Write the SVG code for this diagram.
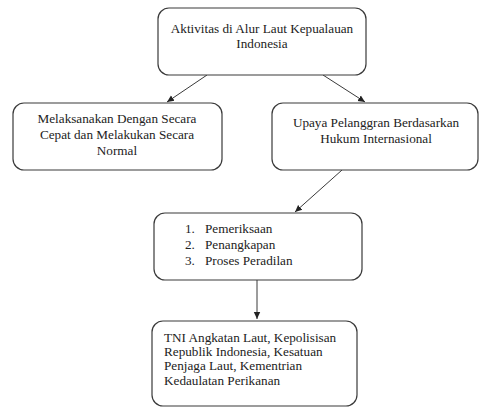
<svg xmlns="http://www.w3.org/2000/svg" width="479" height="408" viewBox="0 0 479 408">
<style>
.box{fill:#fff;stroke:#3a3a3a;stroke-width:1.2}
.t{font-family:"Liberation Serif","Times New Roman",serif;font-size:13.2px;fill:#222}
.c{text-anchor:middle}
.ln{stroke:#3a3a3a;stroke-width:1;fill:none;marker-end:url(#ah)}
</style>
<defs>
<marker id="ah" markerWidth="8" markerHeight="8" refX="7" refY="4" orient="auto" markerUnits="userSpaceOnUse">
<path d="M0,0.8 L7,4 L0,7.2 Z" fill="#222"/>
</marker>
</defs>
<rect width="479" height="408" fill="#fff"/>
<g id="connectors">
<line class="ln" x1="207" y1="75" x2="167" y2="102"/>
<line class="ln" x1="323" y1="75" x2="365" y2="102"/>
<line class="ln" x1="342" y1="170" x2="295" y2="212"/>
<line class="ln" x1="257" y1="280" x2="257" y2="319"/>
</g>
<g id="n1">
<rect class="box" x="158" y="8" width="208" height="67" rx="11"/>
<text class="t c" x="262" y="33">Aktivitas di Alur Laut Kepualauan</text>
<text class="t c" x="262" y="48">Indonesia</text>
</g>
<g id="n2">
<rect class="box" x="13" y="103" width="209" height="67" rx="11"/>
<text class="t c" x="117" y="123">Melaksanakan Dengan Secara</text>
<text class="t c" x="117" y="139">Cepat dan Melakukan Secara</text>
<text class="t c" x="117" y="155">Normal</text>
</g>
<g id="n3">
<rect class="box" x="272" y="103" width="206" height="67" rx="11"/>
<text class="t c" x="376" y="127">Upaya Pelanggran Berdasarkan</text>
<text class="t c" x="376" y="143">Hukum Internasional</text>
</g>
<g id="n4">
<rect class="box" x="154" y="213" width="208" height="67" rx="11"/>
<text class="t" x="185" y="233">1.</text>
<text class="t" x="205" y="233">Pemeriksaan</text>
<text class="t" x="185" y="249">2.</text>
<text class="t" x="205" y="249">Penangkapan</text>
<text class="t" x="185" y="265">3.</text>
<text class="t" x="205" y="265">Proses Peradilan</text>
</g>
<g id="n5">
<rect class="box" x="152" y="321" width="205" height="85" rx="11"/>
<text class="t" x="164" y="342">TNI Angkatan Laut, Kepolisisan</text>
<text class="t" x="164" y="356">Republik Indonesia, Kesatuan</text>
<text class="t" x="164" y="370">Penjaga Laut, Kementrian</text>
<text class="t" x="164" y="385">Kedaulatan Perikanan</text>
</g>
</svg>
